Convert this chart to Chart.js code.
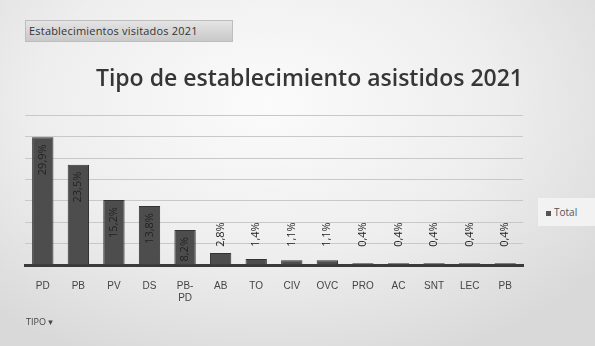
<!DOCTYPE html>
<html>
<head>
<meta charset="utf-8">
<script src="https://cdn.jsdelivr.net/npm/chart.js@4/dist/chart.umd.min.js"></script>
<style>
    html, body { margin: 0; padding: 0; }
    body {
        width: 595px; height: 346px; overflow: hidden; position: relative;
        background: radial-gradient(ellipse 70% 80% at 45% 30%, #fbfbfb 0%, #eeeeee 55%, #d9d9d9 100%);
        font-family: "Open Sans", "DejaVu Sans", sans-serif;
    }
    #wrap { position: absolute; left: 0; top: 0; width: 595px; height: 346px; }
    .btn {
        position: absolute; left: 25px; top: 20px; width: 208px; height: 22px;
        background: linear-gradient(#e4e4e4, #c9c9c9);
        border: 1px solid #bdbdbd; box-sizing: border-box;
        font-size: 11px; line-height: 20px; color: #333; padding-left: 3px; letter-spacing: 0.2px;
    }
    .legend {
        position: absolute; left: 538px; top: 198px; width: 57px; height: 28px;
        background: #f2f2f2; font-size: 10px; line-height: 28px; color: #555; padding-left: 8px;
        box-sizing: border-box;
    }
    .legend span { display: inline-block; width: 5px; height: 5px; background: #555; margin-right: 3px; vertical-align: middle; }
    .tipo { position: absolute; left: 26px; top: 315px; font-size: 9px; color: #444; }
</style>
</head>
<body>
<div id="wrap"><canvas id="chart" width="595" height="346"></canvas></div>
<div class="btn">Establecimientos visitados 2021</div>
<div class="legend"><span></span>Total</div>
<div class="tipo">TIPO ▾</div>
<script>
// categorías y valores (%)
const categories = ["PD", "PB", "PV", "DS", ["PB-", "PD"], "AB", "TO", "CIV", "OVC", "PRO", "AC", "SNT", "LEC", "PB"];
const totals = [29.9, 23.5, 15.2, 13.8, 8.2, 2.8, 1.4, 1.1, 1.1, 0.4, 0.4, 0.4, 0.4, 0.4];
const yTicks = [0, 5, 10, 15, 20, 25, 30, 35];

// etiquetas verticales sobre las barras
const barLabels = {
    id: 'barLabels',
    afterDatasetsDraw(chart) {
        const ctx = chart.ctx;
        const meta = chart.getDatasetMeta(0);
        const topOut = chart.scales.y.getPixelForValue(10); // las etiquetas exteriores quedan alineadas arriba
        ctx.save();
        ctx.font = '11px "Open Sans", sans-serif';
        ctx.fillStyle = '#222';
        ctx.textBaseline = 'middle';
        meta.data.forEach((bar, i) => {
            const txt = totals[i].toFixed(1).replace('.', ',') + '%';
            const w = ctx.measureText(txt).width;
            const h = bar.base - bar.y;
            ctx.save();
            if (h > w + 8) {
                ctx.translate(bar.x, bar.y);
                ctx.rotate(-Math.PI / 2);
                ctx.textAlign = 'right';
                ctx.fillText(txt, -7, 0);
            } else {
                ctx.translate(bar.x, Math.min(topOut + w, bar.y - 2));
                ctx.rotate(-Math.PI / 2);
                ctx.textAlign = 'left';
                ctx.fillText(txt, 0, 0);
            }
            ctx.restore();
        });
        ctx.restore();
    }
};

new Chart(document.getElementById("chart").getContext("2d"), {
    type: 'bar',
    data: {
        labels: categories,
        datasets: [{
            label: 'Total',
            data: totals,
            backgroundColor: '#4d4d4d',
            borderColor: '#333',
            borderWidth: 1,
            barPercentage: 0.6,
            categoryPercentage: 1
        }]
    },
    options: {
        responsive: false,
        animation: false,
        layout: { padding: { left: 25, right: 72, top: 0, bottom: 35 } },
        scales: {
            x: {
                grid: { display: false },
                border: { color: '#3a3a3a', width: 3 },
                ticks: { color: '#444', font: { size: 10 }, padding: 7, maxRotation: 0, autoSkip: false }
            },
            y: {
                min: 0,
                max: 35,
                afterBuildTicks: axis => { axis.ticks = yTicks.map(v => ({ value: v })); },
                ticks: { display: false },
                border: { display: false },
                grid: { color: '#c8c8c8', drawTicks: false }
            }
        },
        plugins: {
            legend: { display: false },
            tooltip: { enabled: false },
            title: {
                display: true,
                align: 'end',
                text: 'Tipo de establecimiento asistidos 2021',
                color: '#363636',
                font: { size: 23, weight: '600', family: '"Open Sans", sans-serif' },
                padding: { top: 66, bottom: 22 }
            }
        }
    },
    plugins: [barLabels]
});
</script>
</body>
</html>
